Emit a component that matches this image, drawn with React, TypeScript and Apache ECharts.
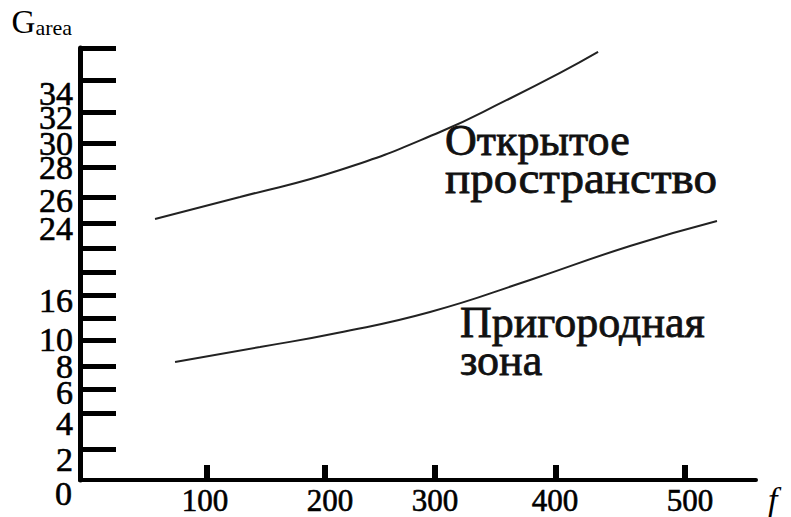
import React, { useEffect, useRef } from "react";
import * as echarts from "echarts";

// Axis coordinates use the figure's own (hand-drawn) scale
const xTickPos = [105.8, 204.2, 295.8, 396.7, 504.2];
const xLabels = ["100", "200", "300", "400", "500"];
const xLabelPos = [104.2, 208.3, 295.8, 395.8, 508.3];

const yTickPos = [2.58, 5.58, 7.58, 9.5, 11.67, 13.5, 15.42, 17.33, 19.33, 21.42, 23.58, 26.08, 28.08, 30.67, 33.33, 36];
const yLabels = ["0", "2", "4", "6", "8", "10", "16", "24", "26", "28", "30", "32", "34"];
const yLabelPos = [-1.08, 1.67, 4.75, 7.33, 9.42, 11.67, 15, 21, 23.33, 26.08, 28.08, 30.25, 32.25];

// Curve: "Открытое пространство"
const openX = [62.5, 133.3, 216.7, 300, 355.8, 400, 431.7];
const openY = [21.75, 23.58, 25.83, 29, 31.67, 33.92, 35.67];
// Curve: "Пригородная зона"
const suburbX = [79.2, 150, 214.2, 291.7, 375, 458.3, 530.8];
const suburbY = [9.83, 11.08, 12.25, 14, 16.67, 19.5, 21.58];

const FONT = "Liberation Serif, Times New Roman, serif";

function lookup(pos: number[], labels: string[], v: number) {
  let best = -1;
  let d = 0.05;
  pos.forEach((p, i) => {
    const dd = Math.abs(p - v);
    if (dd < d) {
      d = dd;
      best = i;
    }
  });
  return best < 0 ? "" : labels[best];
}

export default function App() {
  const ref = useRef<HTMLDivElement>(null);
  useEffect(() => {
    if (!ref.current) return;
    const chart = echarts.init(ref.current, null, { renderer: "svg" });
    const Y_MIN = 0;
    const Y_MAX = 36;
    // empty guard labels at both ends keep ECharts from dropping overlapping end labels
    const yLabelValues = [Y_MIN, ...yLabelPos.filter((v) => v >= Y_MIN), Y_MAX];
    const textStyle = (size: number) => ({
      fill: "#111",
      stroke: "#111",
      lineWidth: 0.8,
      fontFamily: FONT,
      fontSize: size,
      align: "left",
      verticalAlign: "bottom",
    });
    const option: any = {
      animation: false,
      backgroundColor: "#ffffff",
      grid: { left: 80, top: 48, width: 676, height: 432, containLabel: false },
      xAxis: {
        type: "value",
        min: 0,
        max: 563.3,
        splitLine: { show: false },
        axisLine: { show: true, onZero: false, lineStyle: { color: "#000", width: 4 } },
        axisTick: {
          show: true,
          inside: true,
          length: 15,
          customValues: xTickPos,
          lineStyle: { color: "#000", width: 6 },
        },
        axisLabel: {
          show: true,
          customValues: xLabelPos,
          hideOverlap: false,
          formatter: (v: number) => lookup(xLabelPos, xLabels, v),
          color: "#000",
          fontFamily: FONT,
          fontSize: 31,
          margin: 5,
          textBorderColor: "#000",
          textBorderWidth: 0.6,
        },
        name: "f",
        nameLocation: "end",
        nameGap: 12,
        nameTextStyle: {
          color: "#000",
          fontFamily: FONT,
          fontStyle: "italic",
          fontSize: 34,
          verticalAlign: "top",
          padding: [2, 0, 0, 0],
        },
      },
      yAxis: {
        type: "value",
        min: Y_MIN,
        max: Y_MAX,
        splitLine: { show: false },
        axisLine: { show: true, onZero: false, lineStyle: { color: "#000", width: 5 } },
        axisTick: {
          show: true,
          inside: true,
          length: 36,
          customValues: yTickPos,
          lineStyle: { color: "#000", width: 5 },
        },
        axisLabel: {
          show: true,
          customValues: yLabelValues,
          hideOverlap: false,
          formatter: (v: number) => lookup(yLabelPos, yLabels, v),
          color: "#000",
          fontFamily: FONT,
          fontSize: 34,
          margin: 7,
          textBorderColor: "#000",
          textBorderWidth: 0.6,
        },
        name: "{g|G}{s|area}",
        nameLocation: "end",
        nameGap: 10,
        nameTextStyle: {
          align: "right",
          verticalAlign: "bottom",
          padding: [0, 8, 0, 0],
          rich: {
            g: { fontFamily: FONT, fontSize: 33, color: "#000", verticalAlign: "bottom", lineHeight: 34 },
            s: { fontFamily: FONT, fontSize: 22, color: "#000", verticalAlign: "bottom", lineHeight: 24 },
          },
        },
      },
      series: [
        {
          name: "Открытое пространство",
          type: "line",
          smooth: true,
          showSymbol: false,
          data: openX.map((x, i) => [x, openY[i]]),
          lineStyle: { color: "#222", width: 2 },
        },
        {
          name: "Пригородная зона",
          type: "line",
          smooth: true,
          showSymbol: false,
          data: suburbX.map((x, i) => [x, suburbY[i]]),
          lineStyle: { color: "#222", width: 2 },
        },
      ],
      graphic: [
        {
          type: "text",
          x: 72,
          y: 493,
          style: {
            text: yLabels[0],
            fill: "#000",
            stroke: "#000",
            lineWidth: 0.6,
            fontFamily: FONT,
            fontSize: 34,
            align: "right",
            verticalAlign: "middle",
          },
        },
        { type: "text", x: 445, y: 162, style: { ...textStyle(44), text: "Открытое" } },
        { type: "text", x: 445, y: 200, scaleX: 1.07, style: { ...textStyle(44), text: "пространство" } },
        { type: "text", x: 460, y: 344, style: { ...textStyle(44), text: "Пригородная" } },
        { type: "text", x: 460, y: 382, style: { ...textStyle(44), text: "зона" } },
      ],
    };
    chart.setOption(option);
    return () => chart.dispose();
  }, []);
  return (
    <div
      ref={ref}
      style={{ position: "fixed", left: 0, top: 0, width: 791, height: 517, background: "#fff" }}
    />
  );
}
